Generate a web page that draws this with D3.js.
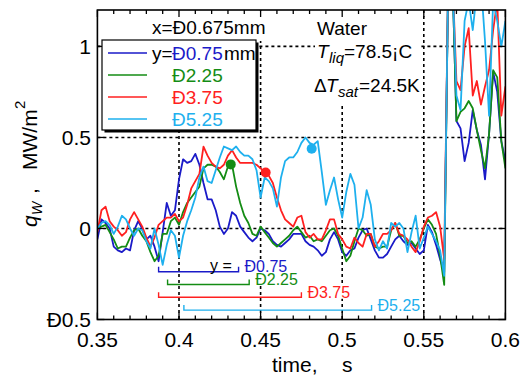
<!DOCTYPE html>
<html><head><meta charset="utf-8">
<script src="https://cdn.jsdelivr.net/npm/d3@7"></script>
<style>body{margin:0;background:#fff}svg{display:block}text{font-family:"Liberation Sans",Arial,sans-serif}</style>
</head><body><svg id="c" width="520" height="378"></svg>
<script>
// ---- data ----
const t0 = 0.35, dt = 0.0025;   // sampling grid of the traces (s)
const blue = [
-0.06, 0.05, 0.03, 0.00, -0.10, -0.12, -0.13, -0.11, -0.12, -0.01,
0.04, 0.00, -0.06, -0.04, -0.10, -0.18, -0.02, 0.14, 0.07, 0.10,
0.27, 0.38, 0.36, 0.37, 0.41, 0.35, 0.25, 0.16, 0.16, 0.10,
0.01, -0.03, 0.00, 0.09, 0.07, 0.01, -0.02, -0.05, -0.07, -0.05,
0.00, -0.01, -0.03, -0.07, -0.09, -0.10, -0.08, -0.06, -0.03, -0.03,
-0.03, -0.07, -0.09, -0.10, -0.12, -0.15, -0.13, -0.06, -0.02, -0.06,
-0.13, -0.15, -0.12, -0.11, -0.05, -0.01, 0.00, -0.06, -0.12, -0.16,
-0.16, -0.14, -0.10, -0.06, -0.04, -0.07, -0.09, -0.08, -0.11, -0.14,
-0.12, 0.02, -0.02, -0.09, -0.17, -0.24, 1.4, 1.4, 0.59, 0.55,
0.37, 0.47, 0.65, 0.54, 0.46, 0.27, 0.52, 0.86, 0.75, 0.48,
0.37];
const green = [
0.00, 0.01, 0.02, -0.02, -0.06, -0.11, -0.10, -0.10, -0.05, -0.01,
0.00, -0.04, -0.07, -0.13, -0.18, -0.15, -0.03, -0.03, 0.04, 0.06,
0.02, 0.09, 0.14, 0.17, 0.20, 0.23, 0.33, 0.35, 0.35, 0.34,
0.31, 0.27, 0.34, 0.35, 0.23, 0.14, 0.07, 0.03, -0.03, -0.04,
0.01, -0.02, -0.05, -0.08, -0.10, -0.08, -0.06, -0.04, -0.01, 0.01,
-0.02, -0.05, -0.04, -0.07, -0.06, -0.07, -0.04, -0.01, 0.00, -0.04,
-0.11, -0.18, -0.15, -0.07, 0.00, -0.01, -0.04, -0.03, -0.10, -0.11,
-0.10, -0.10, -0.01, 0.03, -0.04, -0.04, -0.08, -0.07, -0.10, -0.06,
0.00, 0.05, 0.02, -0.03, -0.15, -0.31, 1.4, 1.4, 0.59, 0.64,
0.66, 0.70, 0.66, 0.54, 0.43, 0.33, 0.52, 0.87, 0.83, 0.48,
0.33];
const red = [
-0.02, 0.10, 0.12, 0.04, 0.01, -0.01, -0.04, -0.02, 0.05, 0.09,
0.05, 0.01, -0.05, -0.10, -0.05, 0.02, 0.04, 0.06, 0.06, 0.08,
0.04, 0.06, 0.13, 0.22, 0.26, 0.30, 0.45, 0.40, 0.36, 0.34,
0.33, 0.35, 0.40, 0.43, 0.39, 0.36, 0.36, 0.36, 0.36, 0.35,
0.33, 0.31, 0.29, 0.25, 0.17, 0.10, 0.05, 0.03, 0.01, 0.06,
0.07, -0.02, -0.05, -0.03, -0.06, -0.06, -0.01, 0.05, 0.05, -0.03,
-0.06, -0.10, -0.11, -0.05, -0.08, -0.10, -0.03, -0.03, -0.10, -0.07,
-0.03, -0.03, -0.01, 0.03, -0.03, -0.04, -0.06, -0.10, -0.13, -0.07,
0.01, 0.06, 0.07, 0.09, 0.01, -0.17, 1.4, 1.4, 0.81, 0.76,
1.00, 1.10, 0.73, 0.81, 0.68, 0.78, 0.87, 1.09, 1.25, 0.62,
0.78];
const cyan = [
0.00, 0.03, 0.04, 0.02, -0.03, 0.01, 0.07, 0.05, 0.00, -0.04,
0.00, -0.01, -0.07, -0.11, 0.00, -0.09, -0.20, -0.09, -0.01, -0.04,
-0.16, -0.04, 0.04, 0.10, 0.17, 0.28, 0.34, 0.26, 0.25, 0.32,
0.39, 0.45, 0.44, 0.43, 0.45, 0.42, 0.40, 0.40, 0.38, 0.32,
0.17, 0.28, 0.26, 0.22, 0.12, 0.28, 0.37, 0.39, 0.39, 0.42,
0.47, 0.50, 0.47, 0.46, 0.48, 0.31, 0.13, 0.21, 0.28, 0.16,
0.06, 0.20, 0.30, 0.24, 0.00, 0.06, 0.21, 0.13, -0.06, -0.12,
-0.07, -0.11, 0.03, 0.01, 0.03, 0.00, -0.13, -0.02, 0.07, -0.11,
-0.05, 0.01, -0.03, -0.07, -0.12, -0.26, 1.4, 1.4, 0.73, 0.65,
1.14, 1.25, 1.09, 1.30, 1.35, 1.03, 0.62, 1.25, 1.14, 1.00,
1.14];
const seriesLabels = ["Ð0.75", "Ð2.25", "Ð3.75", "Ð5.25"];
const colors = ["#1a1ac8", "#148c14", "#ff2020", "#1eb0ee"];
const xTicks = [0.35, 0.4, 0.45, 0.5, 0.55, 0.6];
const xTickLabels = ["0.35", "0.4", "0.45", "0.5", "0.55", "0.6"];
const xMinor = [0.36,0.37,0.38,0.39,0.41,0.42,0.43,0.44,0.46,0.47,0.48,0.49,0.51,0.52,0.53,0.54,0.56,0.57,0.58,0.59];
const yTicks = [-0.5, 0, 0.5, 1];
const yTickLabels = ["Ð0.5", "0", "0.5", "1"];
const xGrid = [0.4, 0.45, 0.5, 0.55];
const yGrid = [0, 0.5, 1];
const dotT = [0.4317, 0.4531, 0.4813];
const dotV = [0.352, 0.307, 0.438];
const dotSeries = [1, 2, 3];
const spanStart = [0.3875, 0.393, 0.3875, 0.403];
const spanEnd = [0.4365, 0.443, 0.475, 0.518];

// ---- drawing ----
const svg = d3.select("#c");
const L = 97.4, R = 505.4, T = 10, B = 319.5;
const x = d3.scaleLinear().domain([0.35, 0.6]).range([L, R]);
const y = d3.scaleLinear().domain([-0.5, 1.2]).range([B, T]);
const series = [blue, green, red, cyan];

svg.append("defs").append("clipPath").attr("id", "clip")
  .append("rect").attr("x", L).attr("y", T).attr("width", R - L).attr("height", B - T);

// grid
const grid = svg.append("g").attr("stroke", "#000").attr("stroke-width", 1.6).attr("stroke-dasharray", "3,3");
grid.selectAll("line.v").data(xGrid).join("line").attr("class", "v")
  .attr("x1", d => x(d)).attr("x2", d => x(d)).attr("y1", T).attr("y2", B);
grid.selectAll("line.h").data(yGrid).join("line").attr("class", "h")
  .attr("x1", L).attr("x2", R).attr("y1", d => y(d)).attr("y2", d => y(d));

// white background blocks behind annotation texts
svg.append("rect").attr("x", 315).attr("y", T + 1).attr("width", 106).attr("height", 95).attr("fill", "#fff");
svg.append("rect").attr("x", 149).attr("y", T + 1).attr("width", 121).attr("height", 30).attr("fill", "#fff");

// lines
const line = d3.line().x((d, i) => x(t0 + i * dt)).y(d => y(d));
const plot = svg.append("g").attr("clip-path", "url(#clip)");
series.forEach((s, k) => {
  plot.append("path").datum(s).attr("d", line).attr("fill", "none")
    .attr("stroke", colors[k]).attr("stroke-width", 1.8).attr("stroke-linejoin", "round");
});
plot.selectAll("circle").data(dotT).join("circle")
  .attr("cx", d => x(d)).attr("cy", (d, i) => y(dotV[i])).attr("r", 5)
  .attr("fill", (d, i) => colors[dotSeries[i]]);

// bracket annotations
const ann = svg.append("g");
spanStart.forEach((s, k) => {
  const yy = 271.7 + k * 12.8;
  const x1 = x(s), x2 = x(spanEnd[k]);
  ann.append("path").attr("d", `M${x1},${yy - 5}V${yy}H${x2}V${yy - 5}`)
    .attr("fill", "none").attr("stroke", colors[k]).attr("stroke-width", 1.4);
  const t = ann.append("text").attr("x", x2 + 6).attr("y", yy + 0.5).attr("font-size", 16)
    .attr("fill", colors[k]).text(seriesLabels[k]);
  const bb = t.node().getBBox();
  ann.insert("rect", () => t.node()).attr("x", bb.x).attr("y", bb.y + 2).attr("width", bb.width)
    .attr("height", bb.height - 4).attr("fill", "#fff");
});
ann.append("text").attr("x", 210).attr("y", 270.5).attr("font-size", 16).attr("fill", "#000").text("y =");

// axes ticks
const ax = svg.append("g").attr("stroke", "#000").attr("stroke-width", 1.3);
[B, T].forEach((yy, j) => {
  const dir = j === 0 ? -1 : 1;
  ax.selectAll(null).data(xTicks).join("line")
    .attr("x1", d => x(d)).attr("x2", d => x(d)).attr("y1", yy).attr("y2", yy + dir * 7);
  ax.selectAll(null).data(xMinor).join("line")
    .attr("x1", d => x(d)).attr("x2", d => x(d)).attr("y1", yy).attr("y2", yy + dir * 4);
});
[L, R].forEach((xx, j) => {
  const dir = j === 0 ? 1 : -1;
  ax.selectAll(null).data(yTicks).join("line")
    .attr("x1", xx).attr("x2", xx + dir * 7).attr("y1", d => y(d)).attr("y2", d => y(d));
});
// tick labels
svg.append("g").selectAll("text").data(xTicks).join("text")
  .attr("x", d => x(d)).attr("y", 347).attr("text-anchor", "middle").attr("font-size", 21)
  .text((d, i) => xTickLabels[i]);
svg.append("g").selectAll("text").data(yTicks).join("text")
  .attr("x", 91).attr("y", d => y(d)).attr("dy", "0.36em").attr("text-anchor", "end").attr("font-size", 21)
  .text((d, i) => yTickLabels[i]);

// frame
svg.append("rect").attr("x", L).attr("y", T).attr("width", R - L).attr("height", B - T)
  .attr("fill", "none").attr("stroke", "#000").attr("stroke-width", 1.6);

// axis titles
svg.append("text").attr("x", 272).attr("y", 372).attr("font-size", 21).text("time,");
svg.append("text").attr("x", 342).attr("y", 372).attr("font-size", 21).text("s");
const yl = svg.append("text").attr("transform", "translate(37,227) rotate(-90)").attr("font-size", 21);
yl.append("tspan").attr("x", 0).attr("y", 0).attr("font-style", "italic").text("q");
yl.append("tspan").attr("x", 12).attr("y", 5).attr("font-size", 14).attr("font-style", "italic").text("W");
yl.append("tspan").attr("x", 33).attr("y", 0).text(",");
yl.append("tspan").attr("x", 57).attr("y", 0).text("MW/m");
yl.append("tspan").attr("x", 118).attr("y", -12).attr("font-size", 15).text("2");

// top-left annotation
svg.append("text").attr("x", 152).attr("y", 34).attr("font-size", 19).text("x=Ð0.675mm");

// legend
svg.append("rect").attr("x", 104.5).attr("y", 42.5).attr("width", 154).attr("height", 90).attr("fill", "#000");
svg.append("rect").attr("x", 102).attr("y", 40).attr("width", 154).attr("height", 90)
  .attr("fill", "#fff").attr("stroke", "#000").attr("stroke-width", 1.2);
const lg = svg.append("g");
seriesLabels.forEach((lab, k) => {
  const base = 60 + k * 22;
  lg.append("line").attr("x1", 108).attr("x2", 147).attr("y1", base - 7).attr("y2", base - 7)
    .attr("stroke", colors[k]).attr("stroke-width", 1.5);
  if (k === 0) {
    const t = lg.append("text").attr("x", 152).attr("y", base).attr("font-size", 19);
    t.append("tspan").text("y=");
    t.append("tspan").attr("x", 172).attr("fill", colors[k]).text(lab);
    t.append("tspan").attr("x", 224).text("mm");
  } else {
    lg.append("text").attr("x", 172).attr("y", base).attr("font-size", 19)
      .attr("fill", colors[k]).text(lab);
  }
});

// top-right annotation
const tr = svg.append("g").attr("font-size", 19);
tr.append("text").attr("x", 317).attr("y", 35).text("Water");
const t1 = tr.append("text").attr("x", 317).attr("y", 58);
t1.append("tspan").attr("font-style", "italic").text("T");
t1.append("tspan").attr("x", 329).attr("dy", 5).attr("font-size", 15).attr("font-style", "italic").text("liq");
t1.append("tspan").attr("x", 344).attr("dy", -5).text("=78.5¡C");
const t2 = tr.append("text").attr("x", 314).attr("y", 92);
t2.append("tspan").text("Δ");
t2.append("tspan").attr("x", 326).attr("font-style", "italic").text("T");
t2.append("tspan").attr("x", 338).attr("dy", 5).attr("font-size", 15).attr("font-style", "italic").text("sat");
t2.append("tspan").attr("x", 359).attr("dy", -5).text("=24.5K");
</script></body></html>
